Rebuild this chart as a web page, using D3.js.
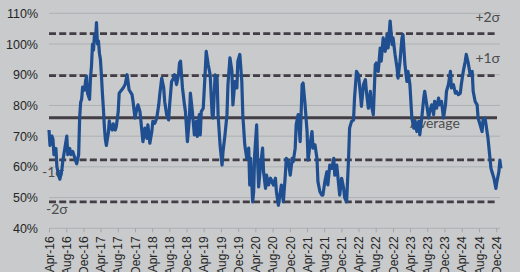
<!DOCTYPE html>
<html lang="en">
<head>
<meta charset="utf-8">
<title>Valuation vs history</title>
<script src="https://d3js.org/d3.v7.min.js"></script>
<style>
  body { margin: 0; background: #c8cacb; }
  svg { display: block; }
</style>
</head>
<body>
<div id="chart"></div>
<script>
// weekly observations, counted from the first week (Apr 2016)
const startDate = "2016-04-01";
const weekNo = [0,1,3,4,5,7,8,10,11,13,14,16,18,19,21,22,24,26,28,30,31,32,33,34,36,37,38,39,41,42,43,44,45,46,47,48,49,50,51,52,53,54,55,56,57,58,60,61,62,64,65,67,68,70,71,
  75,77,79,81,84,85,87,89,90,92,94,95,97,99,100,102,104,105,107,109,111,112,114,116,117,119,121,122,124,126,127,129,131,132,133,135,137,138,140,142,143,145,147,149,150,152,
  153,154,156,158,159,161,163,165,166,168,170,171,173,175,176,178,180,181,183,185,186,188,190,191,193,195,196,198,200,202,203,204,206,207,208,210,211,212,214,216,217,219,220,222,224,
  227,229,230,232,234,235,237,239,240,242,244,246,247,249,250,252,254,256,257,259,261,262,264,266,267,269,271,272,274,276,277,279,281,282,284,286,288,289,291,293,294,296,298,299,
  301,303,304,306,308,309,311,313,315,316,318,320,321,323,325,326,328,330,331,333,335,336,338,340,342,343,345,347,348,350,352,353,355,357,358,360,362,363,365,367,369,370,372,374,375,
  377,379,380,382,384,385,387,389,390,392,394,395,397,399,401,402,404,406,407,409,411,412,414,416,417,419,421,422,424,426,428,429,431,433,434,436,438,439,441,443,444,446,447,448,450,452,453,455,456,457];
const values = [72,67,70,69,64,66,60,57,56,59,62,66,70,64,66,64,65,63,61,64,76,81,82,86,85,88,89.5,84,82,89,93,100,98,103,101,107,100,101,97,95,90,84,79,73,69,67,71,75,73,72,74,72,73,78,84,
  85.7,86.8,90,85.1,83.5,81.3,75.9,79.1,80.2,78,71.5,68.2,72.6,69.3,73.7,67.7,71.5,74.8,74.2,75.9,80.2,83.5,88.9,85.7,81.3,77,75.3,80.2,87.8,88.9,90,86.8,90,93.8,94.4,85.7,80.2,78,68.2,75.9,84,78,70.4,74.8,69.9,77,
  70.4,78,79.1,91.1,97.6,93.3,90,77,75.9,90,88.9,77,67.2,60.6,65,70.4,77,86.8,95.5,91.1,80.2,87.8,85.7,94.4,96.6,87.8,77,67.2,62.8,66.1,54.1,62.8,48.6,51.9,63.9,73.7,61.7,53.5,60.6,66.1,58.4,53,57.3,54.1,56.3,
  54.1,56.3,51.9,47.5,51.9,54.1,48.6,57.3,62.8,61.7,57.3,62.8,61.7,66.1,73.7,77,68.2,86.8,87.3,80.2,71.5,62.2,67.2,71.5,66.1,67.2,62.8,55.2,51.9,50.8,50.8,55.2,58.4,54.1,60.6,59.5,62.8,57.3,60.6,54.1,50.8,56.3,53,50,
  48.6,62.8,72.6,74.8,75.3,82.4,91.1,90,83.5,79.7,86.8,88.4,84.6,79.1,84.6,80.2,77,93.3,93.8,91.1,98.7,94.4,102,97.6,103.1,98.7,107.5,99.8,102,96.6,92.2,88.9,94.4,102,103.1,93.3,87.8,91.1,86.8,75.9,72.6,74.8,71.5,74.8,70.4,
  75.9,82.4,84.6,80.2,75.9,78,80.2,77,81.3,79.1,82.4,80.2,81.3,75.9,80.2,84.6,86.8,91.1,85.7,86.8,84,84.6,83.5,84,86.8,91.1,94.4,96.6,93.8,90,91.1,84.6,81.3,80.2,75.9,73.7,71.5,75.3,75.9,71.5,69.3,62.8,59.5,58.4,56.3,53,55.2,58.4,62.2,59.5];

const bandLabels = ["+2σ", "+1σ", "Average", "-1σ", "-2σ"];
const bandValues = [103.4, 89.7, 76.0, 62.3, 48.6];
const yTicks = [40, 50, 60, 70, 80, 90, 100, 110];

const W = 520, H = 272;
const plotLeft = 49, plotRight = 496.2, plotTop = 13.3, plotBottom = 228.3;

const svg = d3.select("#chart").append("svg")
  .attr("width", W).attr("height", H);

svg.append("rect").attr("width", W).attr("height", H).attr("fill", "#c8cacb");

const t0 = d3.timeParse("%Y-%m-%d")(startDate);
const data = weekNo.map((w, i) => ({ date: d3.timeDay.offset(t0, w * 7), value: values[i] }));

const x = d3.scaleTime()
  .domain([t0, new Date(2024, 11, 1)])
  .range([plotLeft, plotRight]);
const y = d3.scaleLinear().domain([40, 110]).range([plotBottom, plotTop]);
const xEnd = 500;

// gridlines
svg.append("g").selectAll("line")
  .data(yTicks)
  .join("line")
  .attr("x1", plotLeft).attr("x2", xEnd)
  .attr("y1", d => y(d)).attr("y2", d => y(d))
  .attr("stroke", "#aeb1b3").attr("stroke-width", 1);

// y axis labels
const yAxis = svg.append("g")
  .attr("transform", `translate(${plotLeft},0)`)
  .call(d3.axisLeft(y).tickValues(yTicks).tickFormat(d => d + "%").tickSize(0).tickPadding(11));
yAxis.select(".domain").remove();
yAxis.selectAll("text")
  .attr("font-family", "Liberation Sans, Arial, sans-serif")
  .attr("font-size", 12.5).attr("fill", "#262626");

// x axis
const xTicks = d3.timeMonth.range(t0, new Date(2024, 11, 2), 4);
const xAxis = svg.append("g")
  .attr("transform", `translate(0,${plotBottom})`)
  .call(d3.axisBottom(x).tickValues(xTicks).tickFormat(d3.timeFormat("%b-%y")).tickSize(4));
xAxis.select(".domain").remove();
xAxis.selectAll("line").attr("stroke", "#a3a6a8");
xAxis.selectAll("text")
  .attr("font-family", "Liberation Sans, Arial, sans-serif")
  .attr("font-size", 12).attr("fill", "#262626")
  .attr("text-anchor", "end")
  .attr("transform", "rotate(-90)")
  .attr("x", -8).attr("y", 0).attr("dy", "0.35em");

// sigma bands
svg.append("g").selectAll("line")
  .data(bandValues)
  .join("line")
  .attr("x1", plotLeft).attr("x2", 497)
  .attr("y1", d => y(d)).attr("y2", d => y(d))
  .attr("stroke", "#433d45")
  .attr("stroke-width", (d, i) => i === 2 ? 3.2 : 2.8)
  .attr("stroke-dasharray", (d, i) => i === 2 ? null : "7,3.2");

// band labels
const labelPos = [
  { x: 500, dy: -12, anchor: "end" },
  { x: 500, dy: -13, anchor: "end" },
  { x: 410, dy: 10, anchor: "start" },
  { x: 42, dy: 17, anchor: "start" },
  { x: 46, dy: 12, anchor: "start" }
];
svg.append("g").selectAll("text")
  .data(bandLabels)
  .join("text")
  .attr("x", (d, i) => labelPos[i].x)
  .attr("y", (d, i) => y(bandValues[i]) + labelPos[i].dy)
  .attr("text-anchor", (d, i) => labelPos[i].anchor)
  .attr("font-family", "Lato, Open Sans, sans-serif")
  .attr("font-size", 14)
  .attr("fill", "#4d4d4f")
  .text(d => d);

// the series
const line = d3.line()
  .x(d => x(d.date))
  .y(d => y(d.value));

svg.append("path")
  .datum(data)
  .attr("fill", "none")
  .attr("stroke", "#1f4f90")
  .attr("stroke-width", 3.2)
  .attr("stroke-linejoin", "round")
  .attr("d", line);
</script>
</body>
</html>
